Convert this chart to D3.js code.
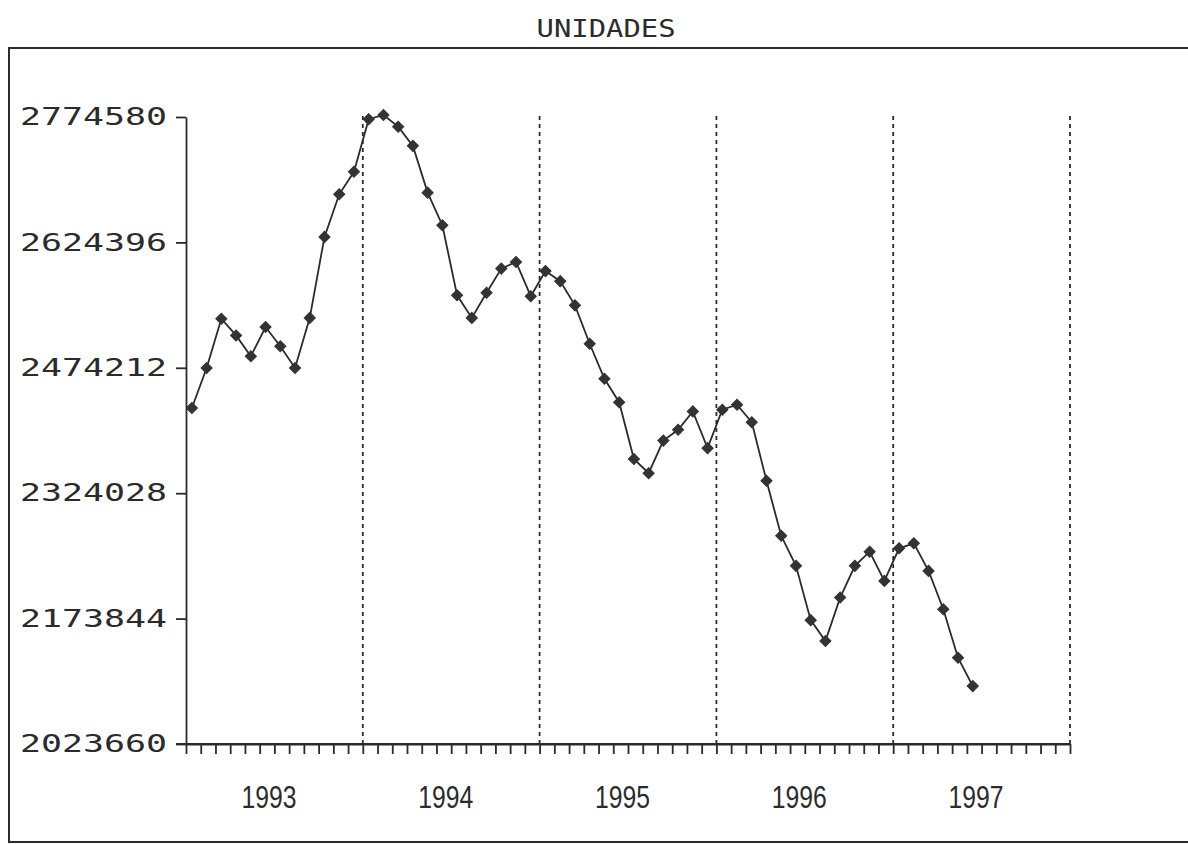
<!DOCTYPE html>
<html>
<head>
<meta charset="utf-8">
<title>UNIDADES</title>
<script src="https://d3js.org/d3.v7.min.js"></script>
<style>
  body { margin: 0; background: #fff; }
  svg { display: block; }
</style>
</head>
<body>
<svg width="1188" height="844"></svg>
<script>
// monthly series, Jan 1993 .. Jun 1997
var years = ["1993", "1994", "1995", "1996", "1997"];
var yTicks = [2023660, 2173844, 2324028, 2474212, 2624396, 2774580];
var unidades = [
  2426000, 2474000, 2533000, 2513000, 2488000, 2523000, 2500000, 2474000, 2534000, 2631000, 2682000, 2709000,
  2772000, 2777000, 2763000, 2740000, 2684000, 2645000, 2561000, 2534000, 2564000, 2593000, 2601000, 2560000,
  2590000, 2578000, 2549000, 2503000, 2461000, 2433000, 2365000, 2348000, 2387000, 2400000, 2422000, 2378000,
  2424000, 2430000, 2409000, 2339000, 2273000, 2237000, 2172000, 2147000, 2199000, 2237000, 2254000, 2219000,
  2258000, 2264000, 2231000, 2185000, 2127000, 2093000
];

var svg = d3.select("svg"),
    width = +svg.attr("width"),
    height = +svg.attr("height");

var ink = "#2b2b2b";

var x = d3.scaleLinear()
    .domain([0, years.length * 12])
    .range([186, 1070]);

var y = d3.scaleLinear()
    .domain([yTicks[0], yTicks[yTicks.length - 1]])
    .range([744, 117]);

// outer frame
svg.append("rect")
    .attr("x", 9)
    .attr("y", 48)
    .attr("width", 1200)
    .attr("height", 794)
    .attr("fill", "none")
    .attr("stroke", ink)
    .attr("stroke-width", 2);

// title
svg.append("text")
    .attr("x", 606)
    .attr("y", 37)
    .attr("text-anchor", "middle")
    .attr("font-family", "DejaVu Sans Mono")
    .attr("font-size", 24)
    .attr("fill", ink)
    .attr("textLength", 139)
    .attr("lengthAdjust", "spacingAndGlyphs")
    .text("UNIDADES");

// dashed year separators
svg.append("g")
  .selectAll("line")
  .data(d3.range(1, years.length + 1))
  .enter().append("line")
    .attr("x1", function(d) { return x(d * 12); })
    .attr("x2", function(d) { return x(d * 12); })
    .attr("y1", y.range()[0])
    .attr("y2", y.range()[1] - 5)
    .attr("stroke", ink)
    .attr("stroke-width", 1.8)
    .attr("stroke-dasharray", "4,4");

// y axis
var yAxis = svg.append("g")
    .attr("transform", "translate(" + x.range()[0] + ",0)")
    .call(d3.axisLeft(y)
      .tickValues(yTicks)
      .tickSize(10)
      .tickSizeOuter(0)
      .tickPadding(9)
      .tickFormat(d3.format("d")));

yAxis.selectAll("text")
    .attr("font-family", "DejaVu Sans Mono")
    .attr("font-size", 24)
    .attr("fill", ink)
    .attr("textLength", 147)
    .attr("lengthAdjust", "spacingAndGlyphs");

// x axis, one tick per month
svg.append("g")
    .attr("transform", "translate(0," + y.range()[0] + ")")
    .call(d3.axisBottom(x)
      .tickValues(d3.range(0, years.length * 12 + 1))
      .tickSize(10)
      .tickSizeOuter(0)
      .tickFormat(""));

// year labels centred under each year
svg.append("g")
    .attr("transform", "translate(-6," + y.range()[0] + ")")
    .call(d3.axisBottom(x)
      .tickValues(years.map(function(d, i) { return i * 12 + 6; }))
      .tickSize(0)
      .tickPadding(41)
      .tickFormat(function(d) { return years[(d - 6) / 12]; }))
  .call(function(g) { g.select(".domain").remove(); })
  .selectAll("text")
    .attr("font-family", "Liberation Sans")
    .attr("font-size", 32)
    .attr("fill", ink)
    .attr("textLength", 55)
    .attr("lengthAdjust", "spacingAndGlyphs");

svg.selectAll(".domain, .tick line")
    .attr("stroke", ink)
    .attr("stroke-width", 1.8);

// extend x axis line left through the y axis, like the original
svg.append("line")
    .attr("x1", x.range()[0] - 10)
    .attr("x2", x.range()[1])
    .attr("y1", y.range()[0])
    .attr("y2", y.range()[0])
    .attr("stroke", ink)
    .attr("stroke-width", 1.8);

// series
var line = d3.line()
    .x(function(d, i) { return x(i + 0.4); })
    .y(function(d) { return y(d); });

svg.append("path")
    .datum(unidades)
    .attr("fill", "none")
    .attr("stroke", ink)
    .attr("stroke-width", 1.8)
    .attr("d", line);

svg.append("g")
  .selectAll("path")
  .data(unidades)
  .enter().append("path")
    .attr("transform", function(d, i) { return "translate(" + x(i + 0.4) + "," + y(d) + ") rotate(45)"; })
    .attr("d", d3.symbol().type(d3.symbolSquare).size(62))
    .attr("fill", "#333")
    .attr("stroke", "#333")
    .attr("stroke-width", 1);
</script>
</body>
</html>
